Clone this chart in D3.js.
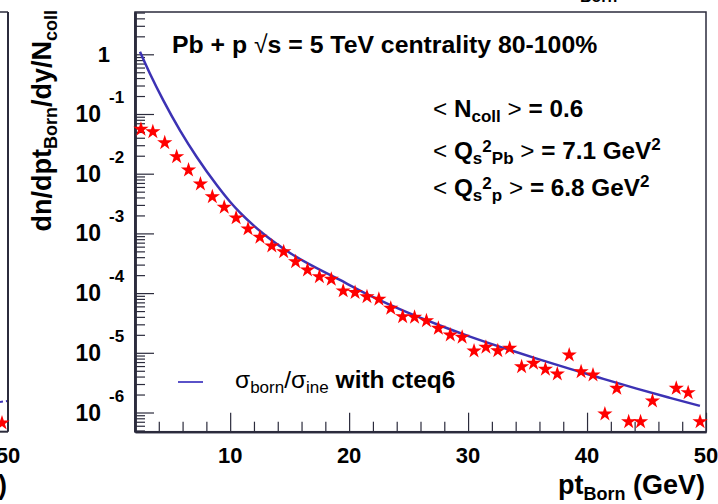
<!DOCTYPE html>
<html>
<head>
<meta charset="utf-8">
<script src="https://cdn.jsdelivr.net/npm/d3@7"></script>
<style>
  html, body { margin: 0; padding: 0; background: #fff; }
  svg { display: block; }
  text { font-family: "Liberation Sans", Arial, Helvetica, sans-serif; font-weight: bold; fill: #000; }
</style>
</head>
<body>
<svg id="chart" width="718" height="504"></svg>
<script>
// pt bin centres (GeV) of the simulated spectrum; the 46.5 GeV bin is empty
const ptBins = [2.5, 3.5, 4.5, 5.5, 6.5, 7.5, 8.5, 9.5, 10.5, 11.5,
  12.5, 13.5, 14.5, 15.5, 16.5, 17.5, 18.5, 19.5, 20.5, 21.5,
  22.5, 23.5, 24.5, 25.5, 26.5, 27.5, 28.5, 29.5, 30.5, 31.5,
  32.5, 33.5, 34.5, 35.5, 36.5, 37.5, 38.5, 39.5, 40.5, 41.5,
  42.5, 43.5, 44.5, 45.5, 47.5, 48.5, 49.5];
// dn/dpt/dy/Ncoll per bin
const dndpt = [5.55e-2, 5.05e-2, 3.30e-2, 1.93e-2, 1.15e-2, 6.71e-3, 4.12e-3, 2.74e-3, 1.82e-3, 1.19e-3,
  8.61e-4, 6.15e-4, 4.93e-4, 3.36e-4, 2.44e-4, 1.88e-4, 1.70e-4, 1.09e-4, 1.02e-4, 8.71e-5,
  7.87e-5, 5.56e-5, 4.03e-5, 3.94e-5, 3.45e-5, 2.57e-5, 1.99e-5, 1.82e-5, 1.07e-5, 1.24e-5,
  1.08e-5, 1.19e-5, 5.85e-6, 6.67e-6, 5.30e-6, 4.42e-6, 9.18e-6, 4.82e-6, 4.25e-6, 9.44e-7,
  2.54e-6, 7.02e-7, 7.02e-7, 1.56e-6, 2.54e-6, 2.15e-6, 7.02e-7];

// Born cross section ratio sigma_born / sigma_ine (cteq6)
const bornPt = [2.42, 3.26, 4.38, 5.78, 7.19, 8.87, 9.99, 10.83, 12.79, 15.03, 19.23,
  22.03, 24.84, 27.64, 30.16, 32.96, 35.77, 38.57, 41.37, 44.17, 46.97, 49.49];
const bornVal = [1.105, 0.473, 0.1694, 5.33e-2, 1.905e-2, 6.46e-3, 3.39e-3, 2.22e-3, 9.89e-4,
  4.71e-4, 1.66e-4, 8.53e-5, 4.79e-5, 2.87e-5, 1.87e-5, 1.21e-5, 8.00e-6, 5.37e-6,
  3.66e-6, 2.51e-6, 1.76e-6, 1.29e-6];

// axis ticks
const xMajor = [10, 20, 30, 40, 50];
const xMinor = [4, 6, 8, 12, 14, 16, 18, 22, 24, 26, 28, 32, 34, 36, 38, 42, 44, 46, 48];
const yExponents = [0, -1, -2, -3, -4, -5, -6];

const svg = d3.select("#chart");
const fL = 135, fR = 706, fT = 12, fB = 431.7;

const x = d3.scaleLinear().domain([2, 50]).range([fL, fR]);
const y = d3.scaleLog().domain([4.77e-7, 5.11]).range([fB, fT]);

const yMajor = yExponents.map(e => Math.pow(10, e));
const yMinor = [];
for (let e = -7; e <= 0; e++) {
  for (let m = 2; m <= 9; m++) {
    const v = m * Math.pow(10, e);
    if (v >= y.domain()[0] && v <= y.domain()[1]) yMinor.push(v);
  }
}

const frameColor = "#2b2b3c";
const curveColor = "#3c32b4";

// left neighbouring panel edge
const lp = svg.append("g");
lp.append("line").attr("x1", 0).attr("x2", 8).attr("y1", fT).attr("y2", fT)
  .attr("stroke", frameColor).attr("stroke-width", 1.5);
lp.append("line").attr("x1", 8).attr("x2", 8).attr("y1", fT).attr("y2", fB)
  .attr("stroke", frameColor).attr("stroke-width", 2);
lp.append("line").attr("x1", 0).attr("x2", 8).attr("y1", fB).attr("y2", fB)
  .attr("stroke", frameColor).attr("stroke-width", 2);
lp.append("line").attr("x1", 0).attr("x2", 7).attr("y1", 402).attr("y2", 401)
  .attr("stroke", curveColor).attr("stroke-width", 2).attr("stroke-dasharray", "3,3");
lp.append("path").attr("d", d3.symbol(d3.symbolStar, 72)())
  .attr("transform", "translate(2,423)").attr("fill", "#ff0000");
lp.append("text").attr("x", 8).attr("y", 463).attr("text-anchor", "middle")
  .attr("font-size", 22).text("50");
const lpt = lp.append("text").attr("x", 7).attr("y", 494).attr("text-anchor", "end").attr("font-size", 27);
lpt.append("tspan").text("pt");
lpt.append("tspan").attr("font-size", 18).attr("dy", 6).text("Born");
lpt.append("tspan").attr("dy", -6).text(" (GeV)");

// label fragment of the panel above
svg.append("text").attr("x", 580).attr("y", 2).attr("font-size", 16).text("Born");

// frame
svg.append("rect").attr("x", fL).attr("y", fT)
  .attr("width", fR - fL).attr("height", fB - fT)
  .attr("fill", "none").attr("stroke", frameColor).attr("stroke-width", 1.5);

// x axis ticks (pointing into the frame)
const gx = svg.append("g").attr("transform", `translate(0,${fB})`);
gx.call(d3.axisBottom(x).tickValues(xMajor).tickSizeInner(-19).tickSizeOuter(0).tickFormat(""));
const gxm = svg.append("g").attr("transform", `translate(0,${fB})`);
gxm.call(d3.axisBottom(x).tickValues(xMinor).tickSizeInner(-10).tickSizeOuter(0).tickFormat(""));
[gx, gxm].forEach(g => {
  g.select(".domain").attr("stroke", frameColor).attr("stroke-width", 2);
  g.selectAll(".tick line").attr("stroke", frameColor).attr("stroke-width", 1.2);
});
svg.append("g").selectAll("text").data(xMajor).join("text")
  .attr("x", d => x(d)).attr("y", 463).attr("text-anchor", "middle")
  .attr("font-size", 22).text(d => d);

// y axis ticks
const gy = svg.append("g").attr("transform", `translate(${fL},0)`);
gy.call(d3.axisLeft(y).tickValues(yMajor).tickSizeInner(-19).tickSizeOuter(0).tickFormat(""));
const gym = svg.append("g").attr("transform", `translate(${fL},0)`);
gym.call(d3.axisLeft(y).tickValues(yMinor).tickSizeInner(-10).tickSizeOuter(0).tickFormat(""));
[gy, gym].forEach(g => {
  g.select(".domain").attr("stroke", frameColor).attr("stroke-width", 2.5);
  g.selectAll(".tick line").attr("stroke", frameColor).attr("stroke-width", 1.2);
});

// y tick labels: 1, 10^-1 ... 10^-6
const ylab = svg.append("g");
yExponents.forEach(e => {
  const yy = y(Math.pow(10, e));
  if (e === 0) {
    ylab.append("text").attr("x", 110).attr("y", yy + 8).attr("text-anchor", "end")
      .attr("font-size", 22).text("1");
  } else {
    ylab.append("text").attr("x", 101).attr("y", yy + 8).attr("text-anchor", "end")
      .attr("font-size", 23).text("10");
    ylab.append("text").attr("x", 109).attr("y", yy - 11).attr("text-anchor", "start")
      .attr("font-size", 17).text(e);
  }
});

// y axis title
const yt = svg.append("text").attr("transform", "translate(51,10) rotate(-90)")
  .attr("text-anchor", "end").attr("font-size", 27);
yt.append("tspan").text("dn/dpt");
yt.append("tspan").attr("font-size", 18).attr("dy", 6).text("Born");
yt.append("tspan").attr("dy", -6).text("/dy/N");
yt.append("tspan").attr("font-size", 18).attr("dy", 6).text("coll");

// x axis title
const xt = svg.append("text").attr("x", 705).attr("y", 494).attr("text-anchor", "end").attr("font-size", 27);
xt.append("tspan").text("pt");
xt.append("tspan").attr("font-size", 18).attr("dy", 6).text("Born");
xt.append("tspan").attr("dy", -6).text(" (GeV)");

// Born curve
const line = d3.line().x((d, i) => x(bornPt[i])).y(d => y(d)).curve(d3.curveMonotoneX);
svg.append("path").attr("d", line(bornVal))
  .attr("fill", "none").attr("stroke", curveColor).attr("stroke-width", 2.5);

// spectrum markers
svg.append("g").selectAll("path").data(dndpt).join("path")
  .attr("d", d3.symbol(d3.symbolStar, 72)())
  .attr("transform", (d, i) => `translate(${x(ptBins[i])},${y(d)})`)
  .attr("fill", "#ff0000");

// header
const ttl = svg.append("text").attr("x", 172).attr("y", 53).attr("font-size", 24.8);
ttl.append("tspan").text("Pb + p ");
ttl.append("tspan").attr("font-weight", "normal").text("√");
ttl.append("tspan").text("s = 5 TeV centrality 80-100%");

// event characteristics
const info = svg.append("g").attr("font-size", 24.3);
const l1 = info.append("text").attr("x", 433).attr("y", 117);
l1.append("tspan").attr("font-weight", "normal").text("< ");
l1.append("tspan").text("N");
l1.append("tspan").attr("font-size", 17).attr("dy", 5).text("coll");
l1.append("tspan").attr("dy", -5).attr("font-weight", "normal").text(" >");
l1.append("tspan").text(" = 0.6");

const l2 = info.append("text").attr("x", 433).attr("y", 159);
l2.append("tspan").attr("font-weight", "normal").text("< ");
l2.append("tspan").text("Q");
l2.append("tspan").attr("font-size", 17).attr("dy", 5).text("s");
l2.append("tspan").attr("font-size", 17).attr("dy", -12).text("2");
l2.append("tspan").attr("font-size", 17).attr("dy", 12).text("Pb");
l2.append("tspan").attr("dy", -5).attr("font-weight", "normal").text(" >");
l2.append("tspan").text(" = 7.1 GeV");
l2.append("tspan").attr("font-size", 17).attr("dy", -9).text("2");

const l3 = info.append("text").attr("x", 433).attr("y", 196);
l3.append("tspan").attr("font-weight", "normal").text("< ");
l3.append("tspan").text("Q");
l3.append("tspan").attr("font-size", 17).attr("dy", 5).text("s");
l3.append("tspan").attr("font-size", 17).attr("dy", -12).text("2");
l3.append("tspan").attr("font-size", 17).attr("dy", 12).text("p");
l3.append("tspan").attr("dy", -5).attr("font-weight", "normal").text(" >");
l3.append("tspan").text(" = 6.8 GeV");
l3.append("tspan").attr("font-size", 17).attr("dy", -9).text("2");

// legend
svg.append("line").attr("x1", 178).attr("x2", 203).attr("y1", 382).attr("y2", 382)
  .attr("stroke", "#5a52c8").attr("stroke-width", 2);
const lg = svg.append("text").attr("x", 235).attr("y", 388).attr("font-size", 24.5);
lg.append("tspan").attr("font-weight", "normal").text("σ");
lg.append("tspan").attr("font-weight", "normal").attr("font-size", 17).attr("dy", 5).text("born");
lg.append("tspan").attr("font-weight", "normal").attr("dy", -5).text("/σ");
lg.append("tspan").attr("font-weight", "normal").attr("font-size", 17).attr("dy", 5).text("ine");
lg.append("tspan").attr("dy", -5).text(" with cteq6");
</script>
</body>
</html>
